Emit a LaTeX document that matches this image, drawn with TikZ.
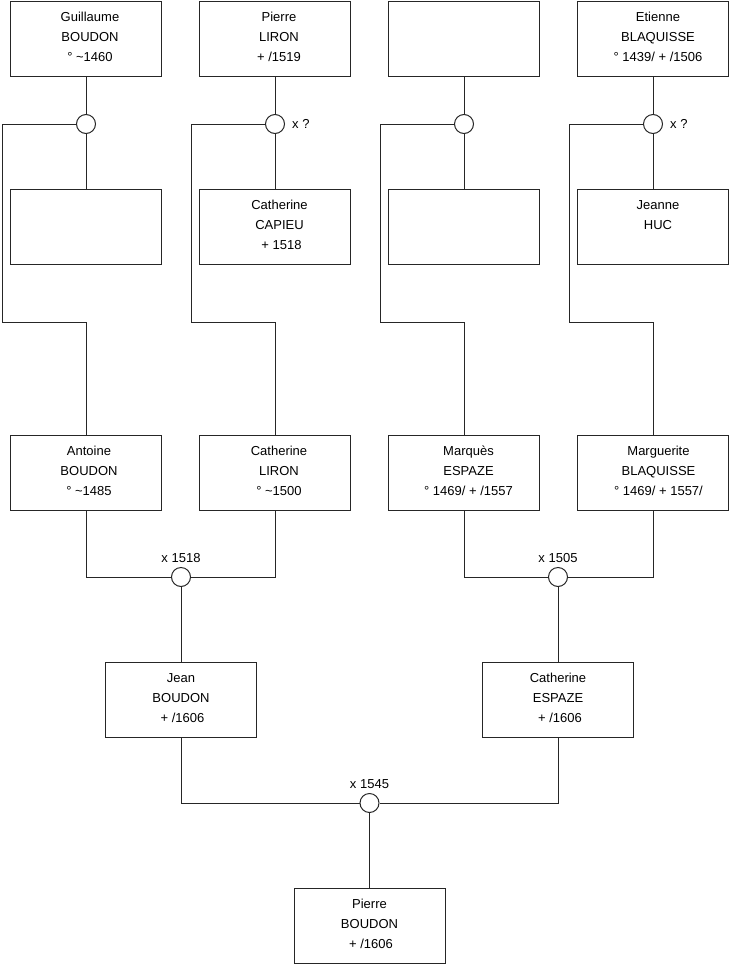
\documentclass[tikz,border=0pt]{standalone}
\usepackage{fontspec}
\setmainfont{Liberation Sans}
% #1 = left skip (twice the rightward shift of the text), #2 = lines
\newcommand\boxtext[2][0]{\parbox[t][75pt][t]{151pt}{\fontsize{13}{20.2}\selectfont\centering\leftskip=#1pt plus 1fil\relax\rule{0pt}{20pt}#2}}
\begin{document}
\begin{tikzpicture}[x=1pt,y=-1pt,
  person/.style={draw=black!85, line width=1pt, rectangle, inner sep=0pt, minimum width=151pt, minimum height=75pt, fill=white},
  union/.style={draw=black!85, line width=1pt, circle, inner sep=0pt, minimum size=19pt, fill=white},
  link/.style={draw=black!85, line width=1pt},
  ulabel/.style={inner sep=0pt, font=\fontsize{13}{20}\selectfont}]
\useasboundingbox (0,0) rectangle (740,975);
% top row
\node[person] (guil) at (86,38.5) {\boxtext[8]{Guillaume\\BOUDON\\° \textasciitilde 1460}};
\node[person] (pliron) at (275,38.5) {\boxtext[8]{Pierre\\LIRON\\+ /1519}};
\node[person] (unka) at (464,38.5) {\boxtext{}};
\node[person] (etienne) at (653,38.5) {\boxtext[10]{Etienne\\BLAQUISSE\\° 1439/ + /1506}};
% second row
\node[person] (unkb) at (86,227) {\boxtext{}};
\node[person] (capieu) at (275,227) {\boxtext[9]{Catherine\\CAPIEU\\\hspace*{4pt}+ 1518}};
\node[person] (unkc) at (464,227) {\boxtext{}};
\node[person] (huc) at (653,227) {\boxtext[10]{Jeanne\\HUC}};
% third row
\node[person] (antoine) at (86,472.5) {\boxtext[6]{Antoine\\BOUDON\\° \textasciitilde 1485}};
\node[person] (clir) at (275,472.5) {\boxtext[8]{Catherine\\LIRON\\° \textasciitilde 1500}};
\node[person] (marques) at (464,472.5) {\boxtext[9]{Marquès\\ESPAZE\\° 1469/ + /1557}};
\node[person] (marg) at (653,472.5) {\boxtext[11]{Marguerite\\BLAQUISSE\\° 1469/ + 1557/}};
% fourth row
\node[person] (jean) at (181,699.5) {\boxtext{Jean\\BOUDON\\\hspace*{3pt}+ /1606}};
\node[person] (cesp) at (558,699.5) {\boxtext{Catherine\\ESPAZE\\\hspace*{4pt}+ /1606}};
% bottom
\node[person] (pboudon) at (369.5,925.5) {\boxtext{Pierre\\BOUDON\\\hspace*{3pt}+ /1606}};
% unions
\node[union] (ca) at (86,124) {};
\node[union, label={[ulabel, label distance=7pt]right:x ?}] (cb) at (275,124) {};
\node[union] (cc) at (464,124) {};
\node[union, label={[ulabel, label distance=7pt]right:x ?}] (cd) at (653,124) {};
\node[union, label={[ulabel, label distance=4pt]above:x 1518}] (ma) at (181,577) {};
\node[union, label={[ulabel, label distance=4pt]above:x 1505}] (mb) at (558,577) {};
\node[union, label={[ulabel, label distance=4pt]above:x 1545}] (mc) at (369.5,803) {};
% corner points
\coordinate (ka1) at (2,124);   \coordinate (ka2) at (2,322);
\coordinate (kb1) at (191,124); \coordinate (kb2) at (191,322);
\coordinate (kc1) at (380,124); \coordinate (kc2) at (380,322);
\coordinate (kd1) at (569,124); \coordinate (kd2) at (569,322);
% top couples
\draw[link] (guil) -- (ca); \draw[link] (ca) -- (unkb);
\draw[link] (pliron) -- (cb); \draw[link] (cb) -- (capieu);
\draw[link] (unka) -- (cc); \draw[link] (cc) -- (unkc);
\draw[link] (etienne) -- (cd); \draw[link] (cd) -- (huc);
% children
\draw[link] (ca.west) -- (ka1) -- (ka2) -| (antoine.north);
\draw[link] (cb.west) -- (kb1) -- (kb2) -| (clir.north);
\draw[link] (cc.west) -- (kc1) -- (kc2) -| (marques.north);
\draw[link] (cd.west) -- (kd1) -- (kd2) -| (marg.north);
% marriages
\draw[link] (antoine.south) |- (ma.west);
\draw[link] (clir.south) |- (ma.east);
\draw[link] (ma) -- (jean);
\draw[link] (marques.south) |- (mb.west);
\draw[link] (marg.south) |- (mb.east);
\draw[link] (mb) -- (cesp);
\draw[link] (jean.south) |- (mc.west);
\draw[link] (cesp.south) |- (mc.east);
\draw[link] (mc) -- (pboudon);
\end{tikzpicture}
\end{document}
